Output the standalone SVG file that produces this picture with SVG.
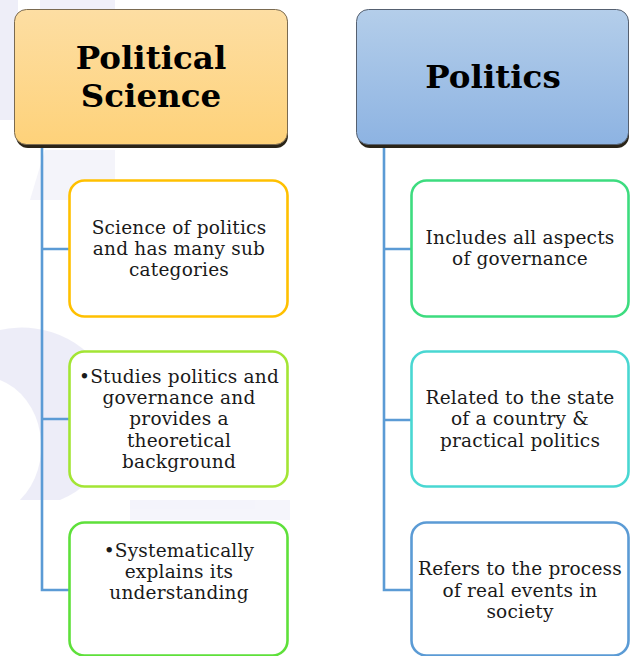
<svg xmlns="http://www.w3.org/2000/svg" width="631" height="656" viewBox="0 0 631 656">
<style>
.hd{font-family:"DejaVu Serif","Liberation Serif",serif;font-weight:bold;font-size:32.5px;fill:#000;text-anchor:middle}
.tx{font-family:"DejaVu Serif","Liberation Serif",serif;font-size:18.5px;letter-spacing:0.2px;fill:#1a1a1a;text-anchor:middle}
.box{fill:#fff;stroke-width:2.6}
.conn{fill:none;stroke:#5B9BD5;stroke-width:2.6}
.shadow{fill:#2a2418}
</style>
<defs>
<linearGradient id="gOr" x1="0" y1="0" x2="0" y2="1">
<stop offset="0" stop-color="#FDDEA3"/>
<stop offset="1" stop-color="#FED27A"/>
</linearGradient>
<linearGradient id="gBl" x1="0" y1="0" x2="0" y2="1">
<stop offset="0" stop-color="#B4CEEA"/>
<stop offset="1" stop-color="#8DB3E2"/>
</linearGradient>
</defs>
<rect width="631" height="656" fill="#fff"/>
<g id="watermark" opacity="0.4">
<rect x="0" y="0" width="18" height="120" fill="#D6D6F0"/>
<rect x="40" y="0" width="75" height="30" fill="#DCDCF2"/>
<path d="M45 150 L115 150 L115 200 L30 200 Z" fill="#E4E4F5"/>
<path d="M0 330 A 95 90 0 0 1 60 500 L 20 500 A 60 70 0 0 0 0 380 Z" fill="#D4D4EE"/>
<rect x="130" y="500" width="160" height="20" fill="#E6E6F6"/>
</g>
<g id="connectors">
<path class="conn" d="M42 145 V590 H69 M42 249 H69 M42 419 H69"/>
<path class="conn" d="M384 145 V590 H411 M384 249 H411 M384 420 H411"/>
</g>
<g id="political-science">
<rect class="shadow" x="16" y="12" width="272" height="136" rx="12"/>
<rect x="14.5" y="9.5" width="273" height="135" rx="12" fill="url(#gOr)" stroke="#7A6A50" stroke-width="1"/>
<text class="hd" x="151" y="69">Political</text>
<text class="hd" x="151" y="107">Science</text>
</g>
<g id="politics">
<rect class="shadow" x="358" y="12" width="271" height="136" rx="12"/>
<rect x="356.5" y="9.5" width="272" height="135" rx="12" fill="url(#gBl)" stroke="#556070" stroke-width="1"/>
<text class="hd" x="493" y="88">Politics</text>
</g>
<g id="ps-1">
<rect class="box" x="69.5" y="180.5" width="218" height="136" rx="15" stroke="#FFC000"/>
<text class="tx" x="179" y="234">Science of politics</text>
<text class="tx" x="179" y="255">and has many sub</text>
<text class="tx" x="179" y="276">categories</text>
</g>
<g id="ps-2">
<rect class="box" x="69.5" y="351.5" width="218" height="135" rx="15" stroke="#A3E534"/>
<text class="tx" x="179" y="383">•Studies politics and</text>
<text class="tx" x="179" y="404">governance and</text>
<text class="tx" x="179" y="425">provides a</text>
<text class="tx" x="179" y="446.5">theoretical</text>
<text class="tx" x="179" y="468">background</text>
</g>
<g id="ps-3">
<rect class="box" x="69.5" y="522.5" width="218" height="133" rx="15" stroke="#5EE03A"/>
<text class="tx" x="179" y="557">•Systematically</text>
<text class="tx" x="179" y="578">explains its</text>
<text class="tx" x="179" y="599">understanding</text>
</g>
<g id="p-1">
<rect class="box" x="411.5" y="180.5" width="217" height="136" rx="15" stroke="#3DDC7F"/>
<text class="tx" x="520" y="243.5">Includes all aspects</text>
<text class="tx" x="520" y="265">of governance</text>
</g>
<g id="p-2">
<rect class="box" x="411.5" y="351.5" width="217" height="135" rx="15" stroke="#49D7D2"/>
<text class="tx" x="520" y="404">Related to the state</text>
<text class="tx" x="520" y="425">of a country &amp;</text>
<text class="tx" x="520" y="446.5">practical politics</text>
</g>
<g id="p-3">
<rect class="box" x="411.5" y="522.5" width="217" height="133" rx="15" stroke="#5B9BD5"/>
<text class="tx" x="520" y="575">Refers to the process</text>
<text class="tx" x="520" y="596.5">of real events in</text>
<text class="tx" x="520" y="618">society</text>
</g>
</svg>
